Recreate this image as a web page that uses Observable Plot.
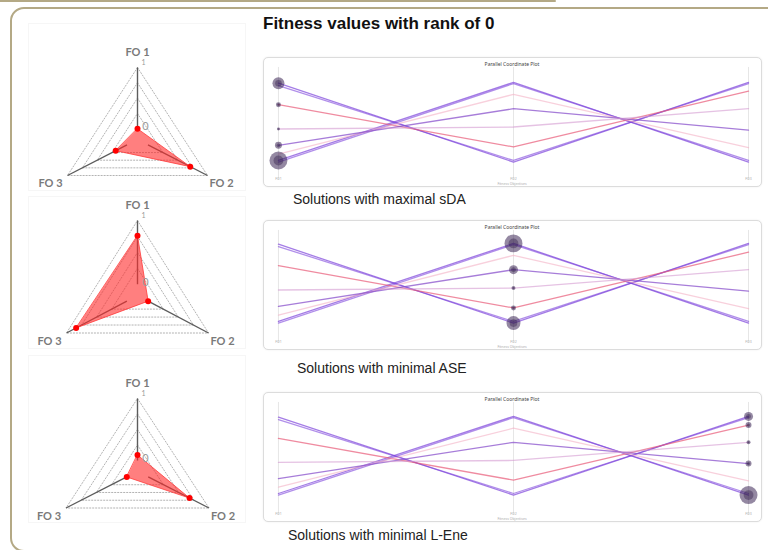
<!DOCTYPE html>
<html>
<head>
<meta charset="utf-8">
<script src="https://cdn.jsdelivr.net/npm/d3@7"></script>
<script src="https://cdn.jsdelivr.net/npm/@observablehq/plot@0.6"></script>
<style>
  body { margin: 0; background: #fff; }
  #page { position: relative; width: 768px; height: 550px; overflow: hidden; font-family: "Liberation Sans", Arial, sans-serif; background: #fff; }
  .tab { position: absolute; left: 0; top: 0; width: 556px; height: 2px; background: #b4a985; border-radius: 0 2px 2px 0; }
  .frame { position: absolute; left: 10px; top: 7px; width: 800px; height: 541px; border: 2px solid #b4a985; border-radius: 14px; }
  h1 { position: absolute; left: 263px; top: 14px; margin: 0; font-size: 17px; font-weight: bold; color: #111; }
  .cap { position: absolute; font-size: 14px; color: #222; white-space: nowrap; }
  .rbox { position: absolute; left: 28px; width: 216px; border: 1px solid #f6f6f6; }
  .abs { position: absolute; }
  .pbox { position: absolute; left: 263px; width: 497px; height: 128px; border: 1px solid #dcdcdc; border-radius: 5px; box-shadow: 0 0 2px rgba(0,0,0,0.08); background: #fff; }
  .pbox svg { position: absolute; left: -1px; top: -1px; }
</style>
</head>
<body>
<div id="page">
  <div class="tab"></div>
  <div class="frame"></div>
  <h1>Fitness values with rank of 0</h1>

  <div class="rbox" style="top:23px;height:166px"></div>
  <div class="rbox" style="top:196px;height:151px"></div>
  <div class="rbox" style="top:355px;height:166px"></div>

  <div class="abs" id="radar1" style="left:28px;top:23px"></div>
  <div class="abs" id="radar2" style="left:28px;top:179px"></div>
  <div class="abs" id="radar3" style="left:28px;top:355px"></div>

  <div class="pbox" id="par1" style="top:57px"></div>
  <div class="pbox" id="par2" style="top:220px"></div>
  <div class="pbox" id="par3" style="top:392px"></div>

  <div class="cap" style="left:293px;top:191px">Solutions with maximal sDA</div>
  <div class="cap" style="left:297px;top:360px">Solutions with minimal ASE</div>
  <div class="cap" style="left:288px;top:527px">Solutions with minimal L-Ene</div>
</div>

<script>
// ---- Radar (spider) charts: normalised fitness of the selected solution ----
const radarAxes = ["FO 1", "FO 2", "FO 3"];
const sdaValues = [0.0, 0.71, 0.19];   // solution with maximal sDA
const aseValues = [0.76, 0.0, 0.84];   // solution with minimal ASE
const leneValues = [0.09, 0.68, 0.0];  // solution with minimal L-Ene
const gridLevels = [0.25, 0.5, 0.75, 1];
const radarTicks = ["0", "1"];

// ---- Parallel coordinates: all rank-0 solutions ----
const objectives = ["FO1", "FO2", "FO3"];
const solutionIds = ["s1a", "s1b", "s2a", "s2b", "s3", "s4", "s5", "s6"];
const fo1 = [0.99, 0.96, 0.02, 0.0, 0.72, 0.10, 0.21, 0.415];
const fo2 = [0.0, 0.02, 1.0, 0.985, 0.19, 0.85, 0.67, 0.44];
const fo3 = [1.0, 0.985, 0.0, 0.02, 0.89, 0.18, 0.40, 0.67];
const lineColors = ["#7d45dc", "#7d45dc", "#7d45dc", "#7d45dc", "#e85a78", "#f4b0c4", "#8a52cc", "#d49ad0"];
const lineOpacity = [0.7, 0.6, 0.7, 0.6, 0.7, 0.6, 0.75, 0.6];

// highlighted solutions on one objective axis (bubble = selected group)
const sdaBubbleValues = [0.99, 0.72, 0.415, 0.21, 0.02];
const sdaBubbleSizes = [6, 2.5, 1.5, 3.5, 9];
const aseBubbleValues = [1.0, 0.67, 0.44, 0.19, 0.0];
const aseBubbleSizes = [9, 4.5, 2, 2.5, 7];
const leneBubbleValues = [1.0, 0.89, 0.67, 0.40, 0.0];
const leneBubbleSizes = [4.5, 3, 2, 3, 9];

// radial position: value 0 sits on a small inner ring, value 1 on the outer ring
const rad = d3.scaleLinear([0, 1], [0.15, 1]);
const angle = i => (i * 2 * Math.PI) / 3;
const ux = i => Math.sin(angle(i));
const uy = i => Math.cos(angle(i));

function radar(values, R, half) {
  const W = 217, H = 170, cx = 109, cy = 116;
  const sx = half / 0.866;
  const grid = gridLevels.flatMap(lv => radarAxes.map((a, i) => ({level: lv, x: rad(lv) * ux(i), y: rad(lv) * uy(i)})));
  const axisLines = radarAxes.map((a, i) => ({name: a, x1: rad(0) * ux(i), y1: rad(0) * uy(i), x2: ux(i), y2: uy(i)}));
  const poly = values.map((v, i) => ({x: rad(v) * ux(i), y: rad(v) * uy(i)}));
  const labelFont = {fontFamily: "Lato, 'Open Sans', sans-serif", fontWeight: "bold", fontSize: 11, fill: "#7a7a7a"};
  return Plot.plot({
    width: W, height: H, margin: 0,
    style: {background: "transparent", overflow: "visible"},
    x: {domain: [-1, 1], range: [cx - sx, cx + sx], axis: null},
    y: {domain: [-1, 1], range: [cy + R, cy - R], axis: null},
    marks: [
      Plot.line(grid, {x: "x", y: "y", z: "level", curve: "linear-closed", stroke: "#a0a0a0", strokeWidth: 0.8, strokeDasharray: "1.2,1.8"}),
      Plot.link(axisLines, {x1: "x1", y1: "y1", x2: "x2", y2: "y2", stroke: "#5c5c5c", strokeWidth: 1.4}),
      Plot.line(poly, {x: "x", y: "y", curve: "linear-closed", fill: "#ff2a2a", fillOpacity: 0.6, stroke: "#ff3a3a", strokeWidth: 0.8}),
      Plot.dot(poly, {x: "x", y: "y", r: 3, fill: "#ff0000"}),
      Plot.text(axisLines.filter((d, i) => i === 0), {x: "x2", y: "y2", text: "name", dy: -15, ...labelFont}),
      Plot.text(axisLines.filter((d, i) => i === 1), {x: "x2", y: "y2", text: "name", dx: 14, dy: 8, ...labelFont}),
      Plot.text(axisLines.filter((d, i) => i === 2), {x: "x2", y: "y2", text: "name", dx: -17, dy: 8, ...labelFont}),
      Plot.text([radarTicks[1]], {x: 0, y: rad(1), text: d => d, dx: 6, dy: -5, fontSize: 7, fill: "#999", fontFamily: "Lato, sans-serif"}),
      Plot.text([radarTicks[0]], {x: 0, y: rad(0), text: d => d, dx: 8, dy: -2, fontSize: 11, fill: "#9a9a9a", fontFamily: "Lato, sans-serif"})
    ]
  });
}

document.getElementById("radar1").append(radar(sdaValues, 72, 70));
document.getElementById("radar2").append(radar(aseValues, 75, 71));
document.getElementById("radar3").append(radar(leneValues, 73, 71.5));

const lineRows = solutionIds.flatMap((id, k) => [
  {id, obj: objectives[0], v: fo1[k], c: lineColors[k], o: lineOpacity[k]},
  {id, obj: objectives[1], v: fo2[k], c: lineColors[k], o: lineOpacity[k]},
  {id, obj: objectives[2], v: fo3[k], c: lineColors[k], o: lineOpacity[k]}
]);

function parallel(axisName, bubbleValues, bubbleSizes, yRange) {
  const bubbles = bubbleValues.map((v, i) => ({obj: axisName, v, size: bubbleSizes[i]}));
  return Plot.plot({
    width: 499, height: 131,
    marginTop: 10, marginBottom: 8, marginLeft: 0, marginRight: 0,
    style: {background: "transparent"},
    x: {type: "point", domain: objectives, range: [14, 487], padding: 0, axis: null},
    y: {domain: [0, 1], range: yRange, axis: null},
    r: {type: "identity"},
    marks: [
      Plot.ruleX(objectives, {x: d => d, stroke: "#e6e6e6", strokeWidth: 1}),
      ...solutionIds.map(id => Plot.line(lineRows.filter(d => d.id === id), {
        x: "obj", y: "v", stroke: d => d.c, strokeOpacity: d => d.o, strokeWidth: 1.3
      })),
      Plot.dot(bubbles, {x: "obj", y: "v", r: "size", fill: "#3d2655", fillOpacity: 0.55}),
      Plot.dot(bubbles, {x: "obj", y: "v", r: d => d.size * 0.55, fill: "#2e1a45", fillOpacity: 0.4}),
      Plot.text(["Parallel Coordinate Plot"], {frameAnchor: "top", dy: -5, text: d => d, fontSize: 5, fill: "#444"}),
      Plot.text(objectives, {x: d => d, frameAnchor: "bottom", dy: 0, text: d => d, fontSize: 3.5, fill: "#aaa"}),
      Plot.text(["Fitness Objectives"], {frameAnchor: "bottom", dy: 5.5, text: d => d, fontSize: 3.5, fill: "#aaa"})
    ]
  });
}

document.getElementById("par1").append(parallel("FO1", sdaBubbleValues, sdaBubbleSizes, [105, 25]));
document.getElementById("par2").append(parallel("FO2", aseBubbleValues, aseBubbleSizes, [103, 23]));
document.getElementById("par3").append(parallel("FO3", leneBubbleValues, leneBubbleSizes, [103, 24]));
</script>
</body>
</html>
